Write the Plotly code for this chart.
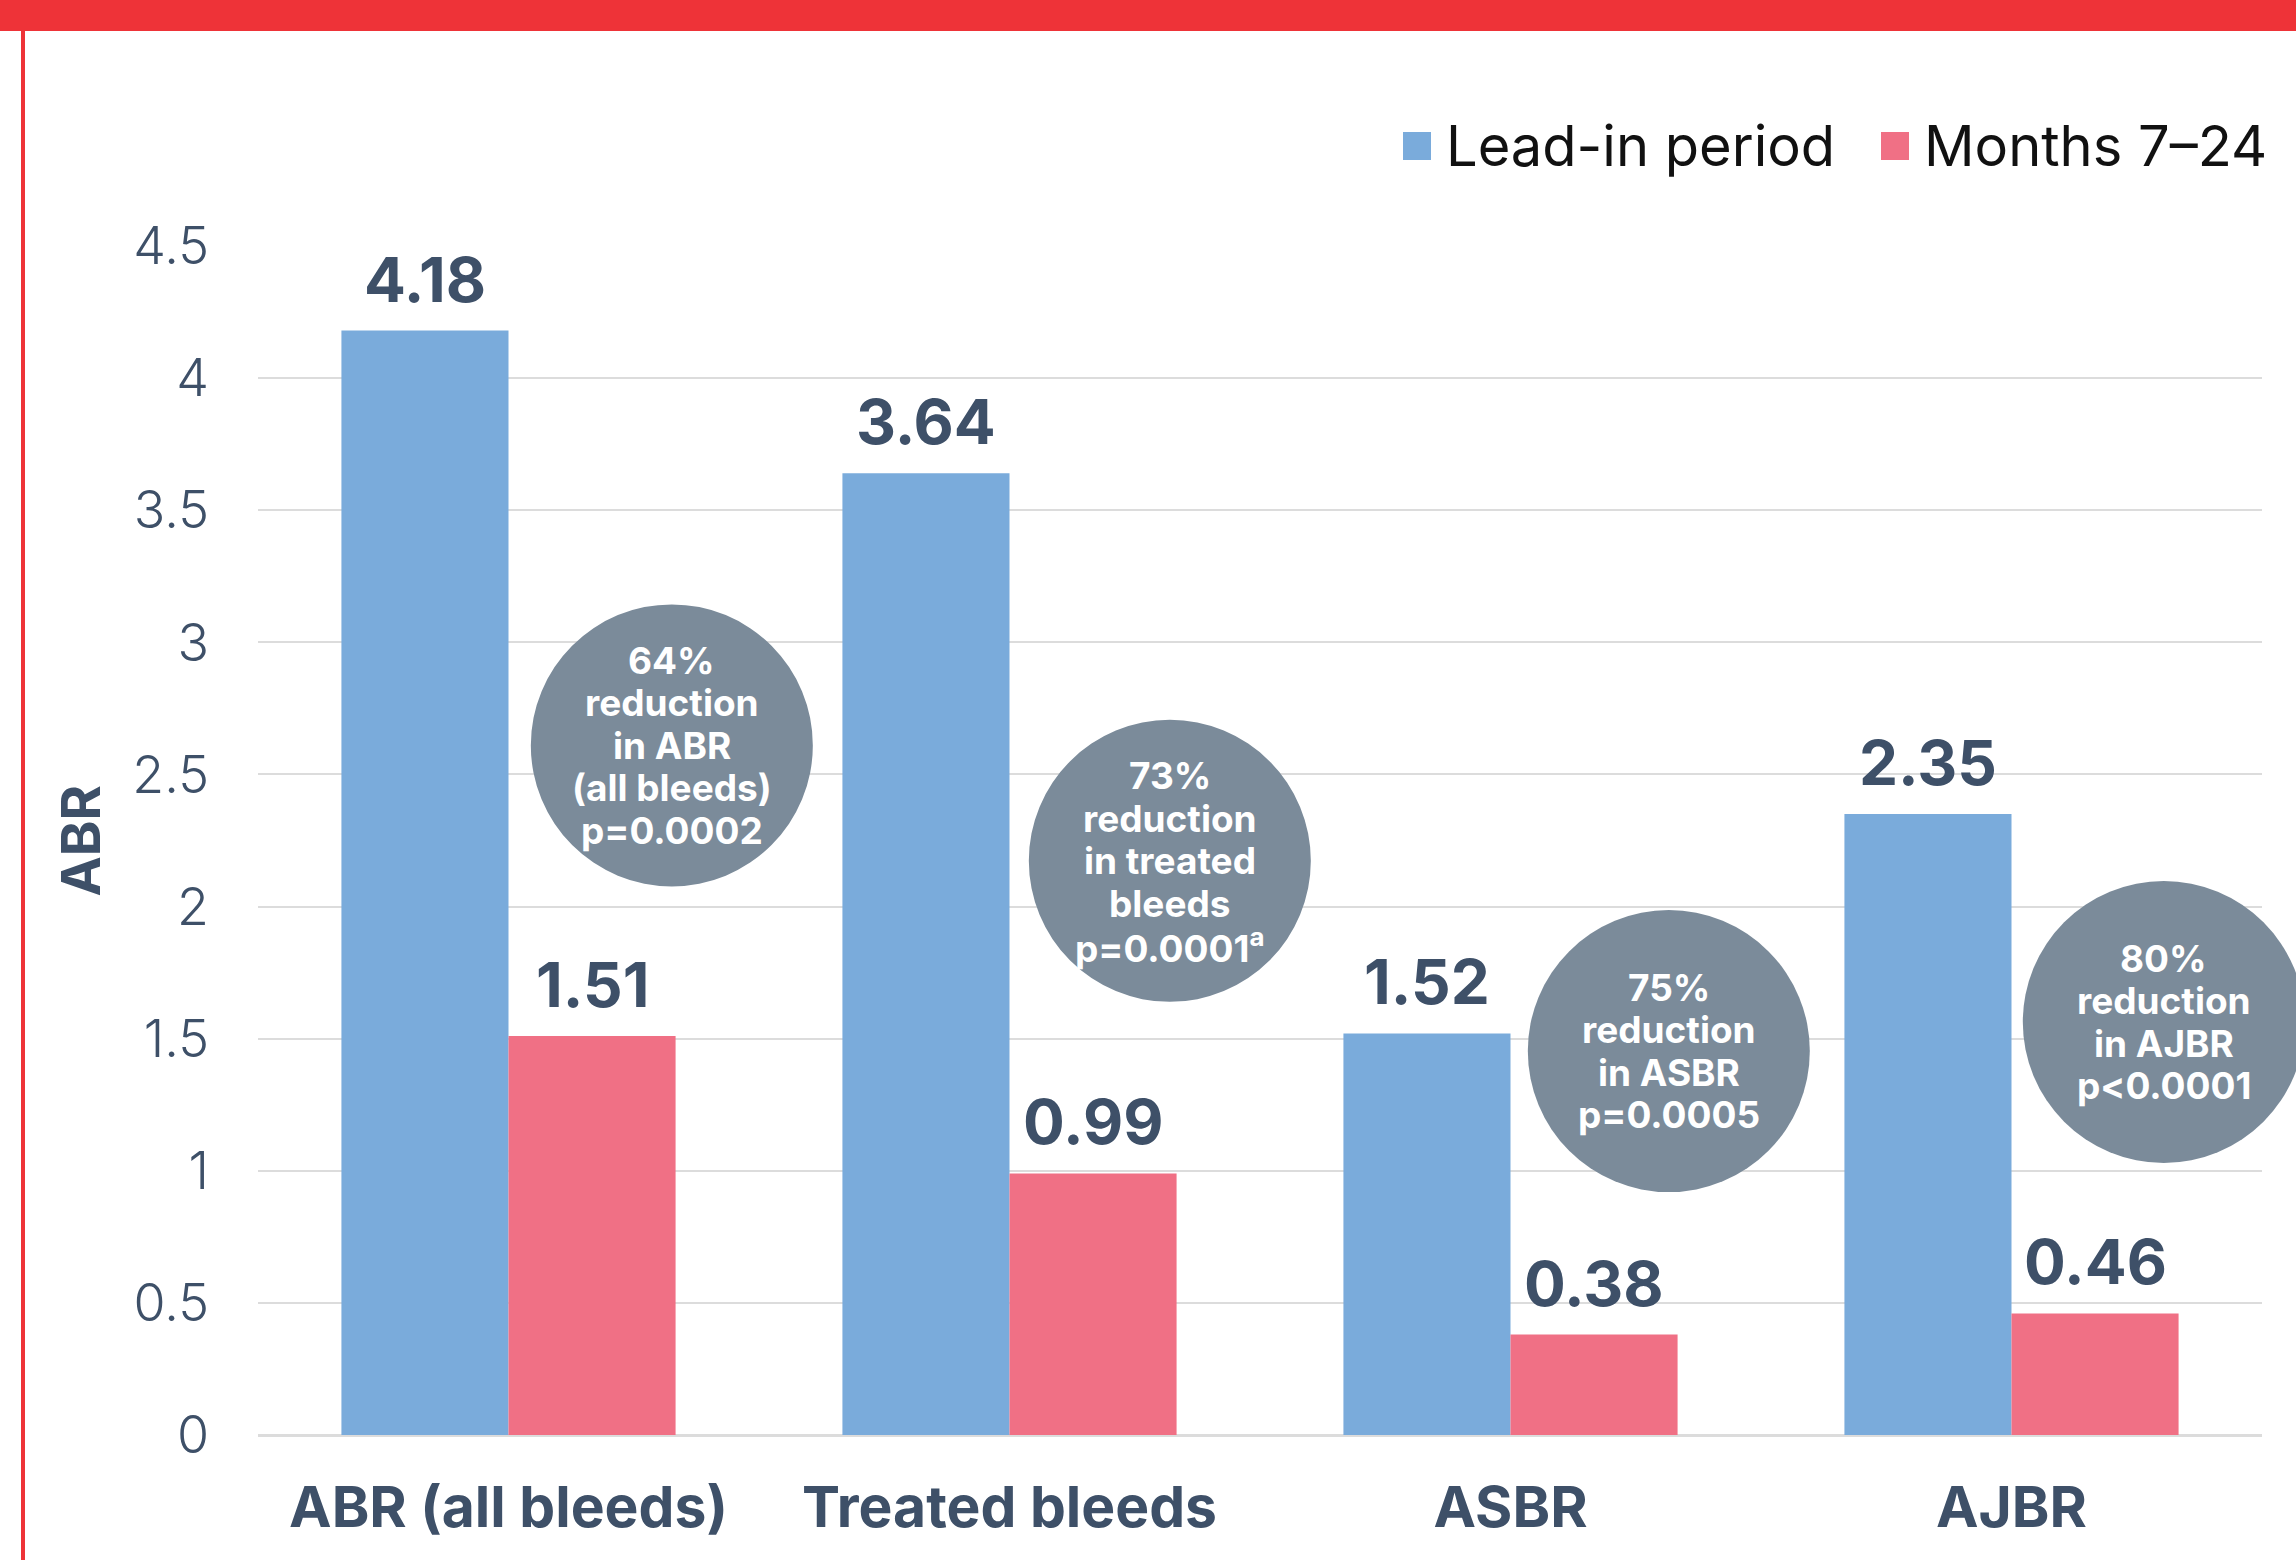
import plotly.graph_objects as go

# ---- data ----
categories = ["ABR (all bleeds)", "Treated bleeds", "ASBR", "AJBR"]
lead_in = [4.18, 3.64, 1.52, 2.35]
months_7_24 = [1.51, 0.99, 0.38, 0.46]
series_names = ["Lead-in period", "Months 7\u201324"]
y_ticks = [0, 0.5, 1, 1.5, 2, 2.5, 3, 3.5, 4, 4.5]
y_tick_labels = ["0", "0.5", "1", "1.5", "2", "2.5", "3", "3.5", "4", "4.5"]
callouts = [
    ["64%", "reduction", "in ABR", "(all bleeds)", "p=0.0002"],
    ["73%", "reduction", "in treated", "bleeds", "p=0.0001<sup>a</sup>"],
    ["75%", "reduction", "in ASBR", "p=0.0005"],
    ["80%", "reduction", "in AJBR", "p<0.0001"],
]

# ---- style ----
W, H = 2296, 1560
L, R, T, B = 258, 34, 246, 125
PW, PH = W - L - R, H - T - B
BLUE = "#7aabdb"
PINK = "#f07085"
SLATE = "#3e5068"
CIRCLE = "#7b8b9a"
RED = "#ee3338"
GRID = "#dcdcdc"
FONT = "Inter"
XMIN, XMAX = -0.5, 3.5

def px_x(px):
    return (px - L) / PW

def px_y(py):
    return (H - B - py) / PH

fig = go.Figure()
fig.add_trace(go.Bar(x=categories, y=lead_in, name=series_names[0],
                     marker=dict(color=BLUE, line=dict(width=0))))
fig.add_trace(go.Bar(x=categories, y=months_7_24, name=series_names[1],
                     marker=dict(color=PINK, line=dict(width=0))))

ymax = 4.5
unit_px_y = PH / ymax
unit_px_x = PW / len(categories)
bar_w_px = unit_px_x * (1 - 0.333) / 2

annotations = []
# value labels
for i, c in enumerate(categories):
    for vals, sh in ((lead_in, -bar_w_px / 2), (months_7_24, bar_w_px / 2)):
        annotations.append(dict(x=c, y=vals[i], xref="x", yref="y",
                                text=f"<b>{vals[i]:.2f}</b>", showarrow=False,
                                xshift=sh, yshift=12, yanchor="bottom",
                                font=dict(family=FONT, size=62, color=SLATE)))

# callout circles (paper-referenced so they are not clipped to the plot area)
circle_pos = [(0.326, 2.61), (1.320, 2.173), (2.316, 1.453), (3.304, 1.563)]
r_px = 141
line_px = 42.5
shapes = []
for (cx, cy), lines in zip(circle_pos, callouts):
    pcx = (cx - XMIN) / (XMAX - XMIN)
    pcy = cy / ymax
    rx = r_px / PW
    ry = r_px / PH
    shapes.append(dict(type="circle", xref="paper", yref="paper",
                       x0=pcx - rx, x1=pcx + rx, y0=pcy - ry, y1=pcy + ry,
                       fillcolor=CIRCLE, line=dict(width=0), layer="above"))
    n = len(lines)
    for k, ln in enumerate(lines):
        annotations.append(dict(x=cx, y=cy, xref="x", yref="y", text=f"<b>{ln}</b>",
                                showarrow=False, align="center", xanchor="center",
                                yanchor="middle", yshift=((n - 1) / 2 - k) * line_px,
                                font=dict(family=FONT, size=37, color="white")))

# red banner & left border
shapes.append(dict(type="rect", xref="paper", yref="paper",
                   x0=px_x(-5), x1=px_x(W + 5), y0=px_y(31), y1=px_y(-5),
                   fillcolor=RED, line=dict(width=0), layer="above"))
shapes.append(dict(type="rect", xref="paper", yref="paper",
                   x0=px_x(21), x1=px_x(25), y0=px_y(H + 5), y1=px_y(30),
                   fillcolor=RED, line=dict(width=0), layer="above"))

# legend (manual)
leg = [(1403, BLUE, series_names[0], 1444), (1881, PINK, series_names[1], 1922)]
for sx, col, name, tx in leg:
    shapes.append(dict(type="rect", xref="paper", yref="paper",
                       x0=px_x(sx), x1=px_x(sx + 28), y0=px_y(160), y1=px_y(132),
                       fillcolor=col, line=dict(width=0)))
    annotations.append(dict(x=px_x(tx), y=px_y(146), xref="paper", yref="paper",
                            text=name, showarrow=False, xanchor="left", yanchor="middle",
                            font=dict(family=FONT, size=56, color="#111111")))

# y-axis title
annotations.append(dict(x=px_x(80), y=0.5, xref="paper", yref="paper",
                        text="<b>ABR</b>", textangle=-90, showarrow=False,
                        xanchor="center", yanchor="middle",
                        font=dict(family=FONT, size=54, color=SLATE)))

fig.update_layout(
    width=W, height=H,
    margin=dict(l=L, r=R, t=T, b=B, autoexpand=False),
    paper_bgcolor="white", plot_bgcolor="white",
    barmode="group", bargap=0.333, bargroupgap=0,
    showlegend=False,
    shapes=shapes, annotations=annotations,
    xaxis=dict(showgrid=False, showline=False, ticks="", ticklabelstandoff=34,
               tickfont=dict(family=FONT, size=57, color=SLATE, weight="bold"),
               range=[XMIN, XMAX]),
    yaxis=dict(range=[0, ymax], tickvals=y_ticks, ticktext=y_tick_labels,
               showgrid=True, gridcolor=GRID, gridwidth=2, zeroline=True,
               zerolinecolor=GRID, zerolinewidth=3, showline=False, ticks="",
               ticklabelstandoff=48,
               tickfont=dict(family=FONT, size=52, color=SLATE, weight=300)),
)

fig.write_html("out.html", config={"displayModeBar": False},
               post_script="document.body.style.margin='0';")
